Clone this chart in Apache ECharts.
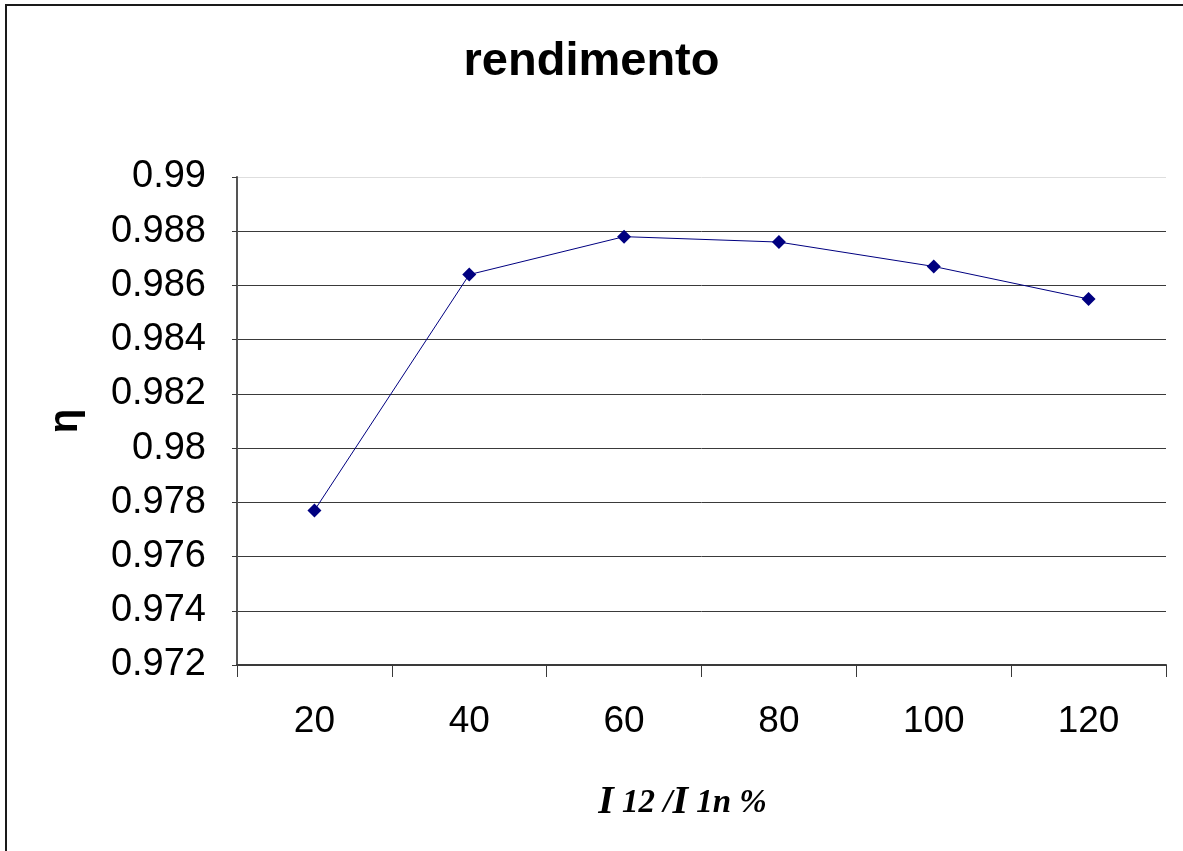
<!DOCTYPE html>
<html>
<head>
<meta charset="utf-8">
<script src="https://cdn.jsdelivr.net/npm/echarts@6/dist/echarts.min.js"></script>
<style>
  html, body { margin: 0; padding: 0; background: #fff; }
  #chart { width: 1183px; height: 851px; }
</style>
</head>
<body>
<div id="chart"></div>
<script>
// Load current as a percentage of the rated current
const categories = ['20', '40', '60', '80', '100', '120'];
// Efficiency η at each load point
const efficiency = [0.9777, 0.9864, 0.9878, 0.9876, 0.9867, 0.9855];

const chart = echarts.init(document.getElementById('chart'));

// Grid lines: dark for the inner ones, pale for the top edge
const splitColors = ['#3a3a3a', '#3a3a3a', '#3a3a3a', '#3a3a3a', '#3a3a3a',
                     '#3a3a3a', '#3a3a3a', '#3a3a3a', '#3a3a3a', '#dedede'];

chart.setOption({
  backgroundColor: '#ffffff',
  animation: false,
  title: {
    text: 'rendimento',
    left: 'center',
    top: 34,
    textStyle: {
      fontFamily: 'Liberation Sans',
      fontWeight: 'bold',
      fontSize: 47,
      color: '#000'
    }
  },
  graphic: [{
    type: 'rect',
    shape: { x: 6, y: 5, width: 1300, height: 1000 },
    style: { fill: null, stroke: '#1a1a1a', lineWidth: 2 },
    silent: true
  }],
  grid: {
    left: 237,
    right: 17,
    top: 177,
    bottom: 186
  },
  xAxis: {
    type: 'category',
    data: categories,
    boundaryGap: true,
    axisLine: { lineStyle: { color: '#3a3a3a', width: 2 } },
    axisTick: { show: true, length: 12, alignWithLabel: false, lineStyle: { color: '#3a3a3a', width: 1 } },
    axisLabel: {
      margin: 38,
      fontFamily: 'Liberation Sans',
      fontSize: 37,
      color: '#000'
    },
    name: '{b|I}{s| 12 /}{b|I}{s| 1n %}',
    nameLocation: 'middle',
    nameGap: 118,
    nameTextStyle: {
      padding: [0, 38, 0, 0],
      rich: {
        b: { fontFamily: 'Liberation Serif', fontStyle: 'italic', fontWeight: 'bold', fontSize: 40, color: '#000' },
        s: { fontFamily: 'Liberation Serif', fontStyle: 'italic', fontWeight: 'bold', fontSize: 33, color: '#000' }
      }
    }
  },
  yAxis: {
    type: 'value',
    min: 0.972,
    max: 0.99,
    interval: 0.002,
    axisLine: { show: true, lineStyle: { color: '#555', width: 2 } },
    axisTick: { show: true, length: 5, lineStyle: { color: '#3a3a3a', width: 1 } },
    axisLabel: {
      margin: 31,
      fontFamily: 'Liberation Sans',
      fontSize: 38,
      color: '#000',
      formatter: v => String(+v.toFixed(3))
    },
    splitLine: { show: true, lineStyle: { color: splitColors, width: 1 } },
    name: 'η',
    nameLocation: 'middle',
    nameRotate: 90,
    nameGap: 151,
    nameTextStyle: {
      fontFamily: 'Liberation Sans',
      fontWeight: 'bold',
      fontSize: 40,
      color: '#000'
    }
  },
  series: [{
    type: 'line',
    data: efficiency,
    symbol: 'diamond',
    symbolSize: 14,
    lineStyle: { color: '#000080', width: 1 },
    itemStyle: { color: '#000080' }
  }]
});
</script>
</body>
</html>
